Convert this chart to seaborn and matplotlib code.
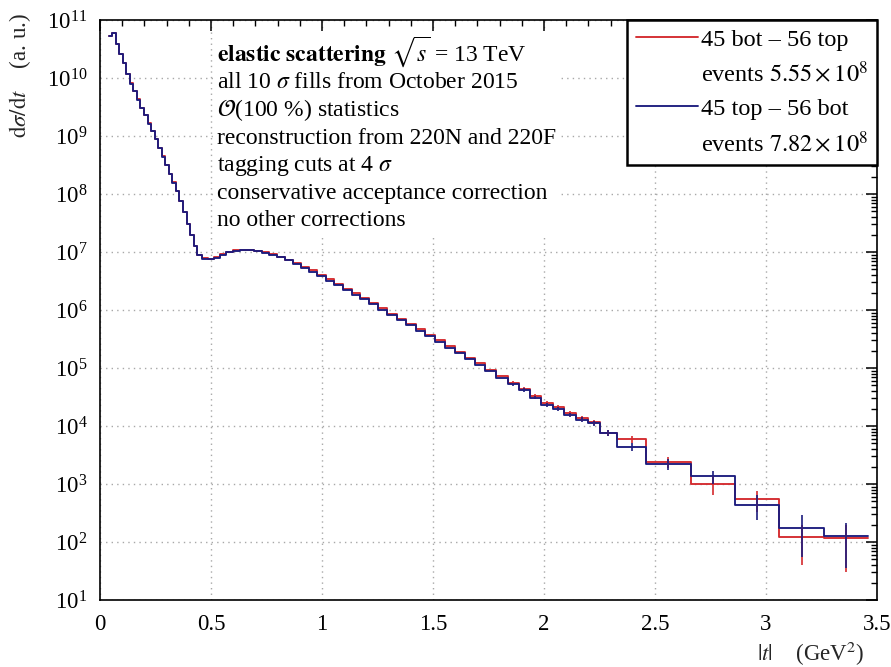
import numpy as np
import pandas as pd
import matplotlib
matplotlib.use("Agg")
import matplotlib.pyplot as plt
from matplotlib.lines import Line2D
from matplotlib.patches import Rectangle
from matplotlib.transforms import Bbox
from matplotlib.ticker import MultipleLocator, LogLocator, NullFormatter, FixedLocator, FixedFormatter
import seaborn as sns

# |t| bin edges (GeV^2)
bin_edges = [0.040, 0.055, 0.070, 0.086, 0.102, 0.118, 0.134, 0.150, 0.166, 0.182,
             0.198, 0.214, 0.230, 0.246, 0.262, 0.278, 0.294, 0.310, 0.326, 0.342,
             0.358, 0.374, 0.390, 0.406, 0.422, 0.438, 0.460, 0.485, 0.512, 0.540,
             0.569, 0.599, 0.630, 0.662, 0.695, 0.729, 0.763, 0.798, 0.833, 0.869,
             0.905, 0.942, 0.979, 1.017, 1.055, 1.094, 1.133, 1.173, 1.213, 1.254,
             1.295, 1.337, 1.379, 1.422, 1.465, 1.509, 1.553, 1.598, 1.643, 1.689,
             1.735, 1.785, 1.836, 1.888, 1.936, 1.986, 2.039, 2.091, 2.144, 2.197,
             2.250, 2.330, 2.460, 2.660, 2.860, 3.060, 3.260, 3.460]

# dsigma/dt (a.u.), diagonal 45 bot - 56 top
rate_45b56t = [5.3e10, 5.9e10, 3.9e10, 2.6e10, 1.8e10, 1.15e10, 8.1e9, 5.9e9, 4.3e9, 3.1e9,
               2.3e9, 1.66e9, 1.23e9, 8.9e8, 6.3e8, 4.5e8, 3.2e8, 2.2e8, 1.58e8, 1.12e8,
               7.6e7, 4.9e7, 3.1e7, 1.95e7, 1.26e7, 8.9e6, 7.8e6, 7.6e6, 8.1e6, 9.1e6,
               1.0e7, 1.07e7, 1.10e7, 1.10e7, 1.05e7, 1.0e7, 9.1e6, 8.3e6, 7.4e6, 6.5e6,
               5.6e6, 4.8e6, 4.0e6, 3.4e6, 2.8e6, 2.3e6, 1.95e6, 1.62e6, 1.32e6, 1.07e6,
               8.7e5, 7.1e5, 5.8e5, 4.7e5, 3.7e5, 3.0e5, 2.4e5, 1.9e5, 1.51e5, 1.20e5,
               9.3e4, 7.2e4, 5.6e4, 4.4e4, 3.3e4, 2.5e4, 2.1e4, 1.66e4, 1.35e4, 1.15e4,
               7.6e3, 5.9e3, 2.4e3, 1.0e3, 5.5e2, 1.2e2, 1.15e2]

# dsigma/dt (a.u.), diagonal 45 top - 56 bot
rate_45t56b = [5.2e10, 6.0e10, 3.9e10, 2.6e10, 1.78e10, 1.16e10, 8.0e9, 5.9e9, 4.2e9, 3.1e9,
               2.3e9, 1.64e9, 1.22e9, 8.8e8, 6.3e8, 4.4e8, 3.2e8, 2.2e8, 1.56e8, 1.11e8,
               7.5e7, 4.9e7, 3.0e7, 1.93e7, 1.25e7, 8.8e6, 7.7e6, 7.5e6, 8.0e6, 9.0e6,
               9.9e6, 1.06e7, 1.08e7, 1.08e7, 1.04e7, 9.8e6, 8.9e6, 8.1e6, 7.2e6, 6.3e6,
               5.4e6, 4.6e6, 3.8e6, 3.2e6, 2.65e6, 2.2e6, 1.84e6, 1.53e6, 1.25e6, 1.02e6,
               8.2e5, 6.7e5, 5.5e5, 4.4e5, 3.5e5, 2.85e5, 2.25e5, 1.8e5, 1.42e5, 1.13e5,
               8.8e4, 6.8e4, 5.2e4, 4.2e4, 3.1e4, 2.3e4, 1.95e4, 1.55e4, 1.28e4, 1.12e4,
               7.6e3, 4.4e3, 2.2e3, 1.35e3, 4.4e2, 1.75e2, 1.25e2]

# statistical uncertainties of the last 15 bins
err_45b56t_tail = [3.5e3, 3.0e3, 2.4e3, 2.0e3, 1.8e3, 1.5e3, 1.3e3, 1.2e3, 9e2, 8e2,
                   5e2, 3.5e2, 2.2e2, 8e1, 8.5e1]
err_45t56b_tail = [3.3e3, 2.9e3, 2.3e3, 1.9e3, 1.7e3, 1.4e3, 1.25e3, 1.2e3, 9e2, 7e2,
                   4.8e2, 3.5e2, 2.0e2, 1.2e2, 9e1]

x_ticks = [0, 0.5, 1, 1.5, 2, 2.5, 3, 3.5]
x_tick_labels = ["0", "0.5", "1", "1.5", "2", "2.5", "3", "3.5"]

series_names = ["45 bot \u2013 56 top", "45 top \u2013 56 bot"]
event_labels = [r"events $5.55\times10^{8}$", r"events $7.82\times10^{8}$"]
series_colors = ["#d42a2e", "#1c1c7e"]

info_lines = [
    r"$\mathbf{elastic\ scattering}$ $\sqrt{s}$ = 13 TeV",
    r"all 10 $\sigma$ fills from October 2015",
    r"$\mathcal{O}$(100 %) statistics",
    "reconstruction from 220N and 220F",
    r"tagging cuts at 4 $\sigma$",
    "conservative acceptance correction",
    "no other corrections",
]

FS = 16.5

sns.set_style("white")
plt.rcParams.update({
    "mathtext.fontset": "stix",
    "axes.edgecolor": "black",
    "axes.linewidth": 1.2,
    "xtick.direction": "in",
    "ytick.direction": "in",
    "xtick.top": True,
    "ytick.right": True,
    "xtick.color": "black",
    "ytick.color": "black",
    "text.color": "black",
})
plt.rcParams["font.family"] = ["Liberation Serif", "DejaVu Serif"]

W, H = 891, 667
fig = plt.figure(figsize=(W / 100, H / 100), dpi=100)
ax_l, ax_r, ax_t, ax_b = 100, 877, 20, 600
ax = fig.add_axes([ax_l / W, 1 - ax_b / H, (ax_r - ax_l) / W, (ax_b - ax_t) / H])

edges = np.array(bin_edges)
centers = 0.5 * (edges[:-1] + edges[1:])
df = pd.DataFrame({"t": centers, "r1": rate_45b56t, "r2": rate_45t56b})

for col, color in zip(["r1", "r2"], series_colors):
    sns.histplot(data=df, x="t", weights=col, bins=list(bin_edges), element="step",
                 fill=False, color=color, linewidth=1.35, ax=ax)

n_tail = len(err_45b56t_tail)
for vals, errs, color in [(rate_45b56t, err_45b56t_tail, series_colors[0]),
                          (rate_45t56b, err_45t56b_tail, series_colors[1])]:
    ax.errorbar(centers[-n_tail:], vals[-n_tail:], yerr=errs, fmt="none",
                ecolor=color, elinewidth=1.2, capsize=0)

ax.set_yscale("log")
ax.set_xlim(0, 3.5)
ax.set_ylim(1e1, 1e11)

ax.xaxis.set_major_locator(FixedLocator(x_ticks))
ax.xaxis.set_major_formatter(FixedFormatter(x_tick_labels))
ax.xaxis.set_minor_locator(MultipleLocator(0.1))
ax.yaxis.set_major_locator(LogLocator(base=10, numticks=20))
ax.yaxis.set_minor_locator(LogLocator(base=10, subs=np.arange(2, 10), numticks=20))
ax.yaxis.set_minor_formatter(NullFormatter())

ax.tick_params(which="major", length=8, width=1.1, labelsize=FS)
ax.tick_params(axis="x", which="major", pad=10)
ax.tick_params(axis="y", which="major", pad=9)
ax.tick_params(which="minor", length=4, width=1.0)
ax.grid(True, which="major", color="#a8a8a8", linestyle=(0, (1, 3)), linewidth=1.0)
ax.set_axisbelow(True)
for s in ax.spines.values():
    s.set_visible(True)
    s.set_color("black")

# axis titles
ax.set_xlabel(r"$|t|$    (GeV$^2$)", fontsize=FS)
ax.xaxis.set_label_coords((864 - ax_l) / (ax_r - ax_l), -(654 - ax_b) / (ax_b - ax_t))
ax.xaxis.label.set_ha("right")
ax.xaxis.label.set_va("center")
ax.set_ylabel(r"$\mathrm{d}\sigma/\mathrm{d}t$    (a. u.)", fontsize=FS, loc="top")
ax.yaxis.set_label_coords(-(ax_l - 33) / (ax_r - ax_l), 1.012)

# run-condition notes, one baseline every 27.5 px, on a white panel
to_ax = lambda px_x, px_y: ((px_x - ax_l) / (ax_r - ax_l), (ax_b - px_y) / (ax_b - ax_t))
notes = []
for i, line in enumerate(info_lines):
    x0, y0 = to_ax(217, 61 + 27.5 * i)
    notes.append(ax.text(x0, y0, line, transform=ax.transAxes, ha="left",
                         va="baseline", fontsize=17, zorder=4))

handles = [Line2D([], [], color=series_colors[0], lw=1.35), Line2D([], [], color="none"),
           Line2D([], [], color=series_colors[1], lw=1.35), Line2D([], [], color="none")]
labels = [series_names[0], event_labels[0], series_names[1], event_labels[1]]
leg = ax.legend(handles, labels, loc="upper right", bbox_to_anchor=(1, 1),
                borderaxespad=0, fontsize=17.5, handlelength=2.55, handletextpad=0.15,
                labelspacing=0.44, borderpad=0.35, fancybox=False, framealpha=1,
                edgecolor="black", frameon=True)
leg.get_frame().set_linewidth(1.8)
leg.set_zorder(5)

fig.canvas.draw()
renderer = fig.canvas.get_renderer()
box = Bbox.union([t.get_window_extent(renderer) for t in notes]).padded(3)
box_ax = box.transformed(ax.transAxes.inverted())
ax.add_patch(Rectangle((box_ax.x0, box_ax.y0), box_ax.width, box_ax.height,
                       transform=ax.transAxes, facecolor="white", edgecolor="none", zorder=3))

fig.savefig("out.png", dpi=100)
